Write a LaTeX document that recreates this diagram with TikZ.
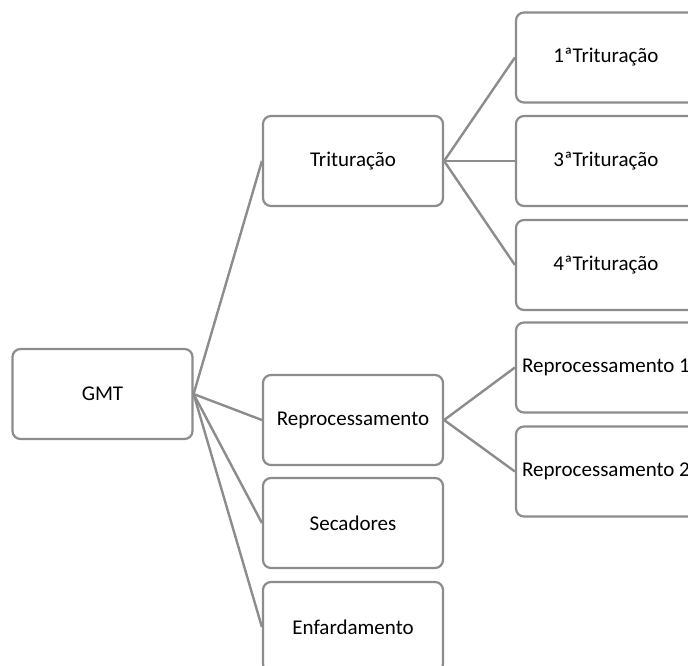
\documentclass[tikz,border=0pt]{standalone}
\usepackage{fontspec}
\setmainfont{Carlito}
\begin{document}
\begin{tikzpicture}[x=1pt,y=-1pt,
  box/.style={draw=boxgray, line width=2.2pt, rounded corners=8pt, fill=white,
    minimum width=180pt, minimum height=90pt, inner sep=0pt,
    font=\fontsize{21pt}{25pt}\selectfont},
  link/.style={draw=boxgray, line width=2.4pt}]
\definecolor{boxgray}{RGB}{140,140,140}
\useasboundingbox (0,0) rectangle (688,665);
\clip (0,0) rectangle (688,665);
% root
\node[box] (gmt) at (102.5,394) {GMT};
% second level
\node[box] (trit) at (353,161) {Trituração};
\node[box] (repro) at (353,420) {Reprocessamento};
\node[box] (sec) at (353,523) {Secadores};
\node[box] (enf) at (353,627) {Enfardamento};
% third level
\node[box] (t1) at (606,57.5) {1ªTrituração};
\node[box] (t3) at (606,161) {3ªTrituração};
\node[box] (t4) at (606,265) {4ªTrituração};
\node[box] (r1) at (606,367.5) {Reprocessamento 1};
\node[box] (r2) at (606,471.5) {Reprocessamento 2};
% connectors
\foreach \c in {trit,repro,sec,enf}
  \draw[link] (gmt.east) -- (\c.west);
\foreach \c in {t1,t3,t4}
  \draw[link] (trit.east) -- (\c.west);
\foreach \c in {r1,r2}
  \draw[link] (repro.east) -- (\c.west);
\end{tikzpicture}
\end{document}
